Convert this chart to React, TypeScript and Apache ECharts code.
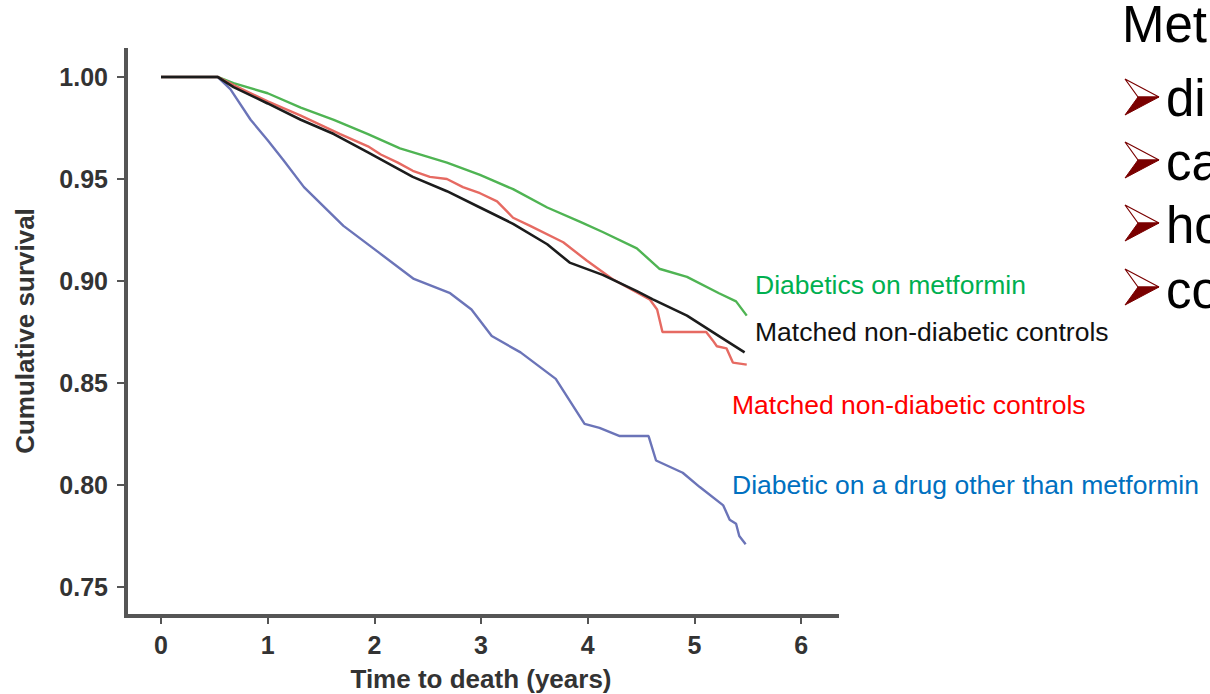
import React, { useEffect, useRef } from "react";
import * as echarts from "echarts";

const xTicks = [0, 1, 2, 3, 4, 5, 6];
const yTicks = [0.75, 0.8, 0.85, 0.9, 0.95, 1.0];

const greenTime = [0, 0.53, 0.68, 1.0, 1.31, 1.62, 1.94, 2.24, 2.68, 2.99, 3.3, 3.62, 3.93, 4.14, 4.46, 4.67, 4.93, 5.23, 5.39, 5.49];
const greenSurv = [1, 1, 0.997, 0.992, 0.985, 0.979, 0.972, 0.965, 0.958, 0.952, 0.945, 0.936, 0.929, 0.924, 0.916, 0.906, 0.902, 0.894, 0.89, 0.883];

const blackTime = [0, 0.53, 0.68, 1.0, 1.31, 1.62, 1.94, 2.36, 2.68, 2.99, 3.3, 3.62, 3.83, 4.14, 4.46, 4.61, 4.93, 5.23, 5.47];
const blackSurv = [1, 1, 0.995, 0.987, 0.979, 0.972, 0.963, 0.951, 0.944, 0.936, 0.928, 0.918, 0.909, 0.903, 0.895, 0.891, 0.883, 0.873, 0.865];

const redTime = [0, 0.53, 0.68, 1.0, 1.31, 1.68, 1.94, 2.06, 2.22, 2.36, 2.52, 2.68, 2.83, 2.99, 3.15, 3.3, 3.46, 3.77, 3.99, 4.23, 4.58, 4.65, 4.7, 5.11, 5.17, 5.21, 5.3, 5.36, 5.49];
const redSurv = [1, 1, 0.996, 0.988, 0.981, 0.972, 0.966, 0.962, 0.958, 0.954, 0.951, 0.95, 0.946, 0.943, 0.939, 0.931, 0.927, 0.919, 0.91, 0.901, 0.891, 0.886, 0.875, 0.875, 0.871, 0.868, 0.867, 0.86, 0.859];

const blueTime = [0, 0.53, 0.65, 0.84, 1.0, 1.15, 1.34, 1.71, 2.04, 2.37, 2.71, 2.91, 3.1, 3.37, 3.7, 3.97, 4.11, 4.3, 4.57, 4.64, 4.89, 5.05, 5.27, 5.33, 5.39, 5.42, 5.48];
const blueSurv = [1, 1, 0.994, 0.979, 0.969, 0.959, 0.946, 0.927, 0.914, 0.901, 0.894, 0.886, 0.873, 0.865, 0.852, 0.83, 0.828, 0.824, 0.824, 0.812, 0.806, 0.799, 0.79, 0.783, 0.781, 0.775, 0.771];

const seriesNames = [
  "Diabetics on metformin",
  "Matched non-diabetic controls",
  "Matched non-diabetic controls",
  "Diabetic on a drug other than metformin",
];
const slideTitle = "Met";
const slideBullets = ["di", "ca", "ho", "co"];

const zip = (a: number[], b: number[]) => a.map((v, i) => [v, b[i]]);

export default function App() {
  const ref = useRef<HTMLDivElement>(null);
  useEffect(() => {
    if (!ref.current) return;
    const chart = echarts.init(ref.current, null, { renderer: "svg" });
    const axisColor = "#555";
    const bulletY = [97, 160, 223, 287];
    const bulletBase = [113, 177, 240, 305];
    const arrows: any[] = [];
    bulletY.forEach((cy) => {
      const l = 1125, r = 1159, n = 1138, h = 18;
      arrows.push({
        type: "polygon",
        shape: { points: [[l, cy - h], [r, cy], [n, cy]] },
        style: { fill: "#fff", stroke: "#7a0000", lineWidth: 1.2 },
      });
      arrows.push({
        type: "polygon",
        shape: { points: [[n, cy], [r, cy], [l, cy + h]] },
        style: { fill: "#7a0000", stroke: "#7a0000", lineWidth: 1 },
      });
    });
    const font = "Arial";
    const txt = (text: string, x: number, y: number, fill: string, size: number, extra: any = {}) => ({
      type: "text",
      x,
      y,
      rotation: extra.rotation || 0,
      style: {
        text,
        fill,
        fontSize: size,
        fontFamily: font,
        fontWeight: extra.bold ? "bold" : "normal",
        textAlign: extra.align || "left",
        align: extra.align || "left",
        textVerticalAlign: extra.vAlign || "middle",
        verticalAlign: extra.vAlign || "middle",
      },
    });
    const option: any = {
      animation: false,
      backgroundColor: "#fff",
      grid: { left: 126, right: 373, top: 50, bottom: 78, containLabel: false },
      xAxis: {
        type: "value",
        min: -0.328,
        max: 6.336,
        axisLine: { show: true, onZero: false, lineStyle: { color: axisColor, width: 4, cap: "square" } },
        axisTick: { show: true, customValues: xTicks, length: 8, lineStyle: { color: axisColor, width: 2 } },
        axisLabel: {
          customValues: xTicks,
          fontSize: 25,
          fontWeight: "bold",
          fontFamily: font,
          color: "#333",
          margin: 16,
        },
        splitLine: { show: false },
      },
      yAxis: {
        type: "value",
        min: 0.7358,
        max: 1.0132,
        axisLine: { show: true, onZero: false, lineStyle: { color: axisColor, width: 4, cap: "square" } },
        axisTick: { show: true, customValues: yTicks, length: 9, lineStyle: { color: axisColor, width: 2 } },
        axisLabel: {
          customValues: yTicks,
          formatter: (v: number) => v.toFixed(2),
          fontSize: 25,
          fontWeight: "bold",
          fontFamily: font,
          color: "#333",
          margin: 18,
        },
        splitLine: { show: false },
      },
      series: [
        { name: seriesNames[0], type: "line", data: zip(greenTime, greenSurv), symbol: "none", lineStyle: { color: "#4fb453", width: 2.4 }, z: 2 },
        { name: seriesNames[2], type: "line", data: zip(redTime, redSurv), symbol: "none", lineStyle: { color: "#e66a62", width: 2.4 }, z: 3 },
        { name: seriesNames[1], type: "line", data: zip(blackTime, blackSurv), symbol: "none", lineStyle: { color: "#1c1c1c", width: 2.6 }, z: 4 },
        { name: seriesNames[3], type: "line", data: zip(blueTime, blueSurv), symbol: "none", lineStyle: { color: "#6b74b8", width: 2.4 }, z: 2 },
      ],
      graphic: [
        txt("Cumulative survival", 25, 331, "#333", 26, { bold: true, rotation: Math.PI / 2, align: "center" }),
        txt("Time to death (years)", 481, 679, "#333", 26, { bold: true, align: "center" }),
        txt(seriesNames[0], 755, 285, "#00b050", 26.5),
        txt(seriesNames[1], 755, 332, "#111", 26.5),
        txt(seriesNames[2], 732, 405, "#ff0000", 26.5),
        txt(seriesNames[3], 732, 485, "#0070c0", 26.5),
        txt(slideTitle, 1122, 50, "#000", 51, { vAlign: "bottom" }),
        ...slideBullets.map((b, i) => txt(b, 1166, bulletBase[i] + 11, "#000", 51, { vAlign: "bottom" })),
        ...arrows,
      ],
    };
    chart.setOption(option);
    return () => chart.dispose();
  }, []);
  return <div ref={ref} style={{ position: "fixed", left: 0, top: 0, width: 1210, height: 694 }} />;
}
